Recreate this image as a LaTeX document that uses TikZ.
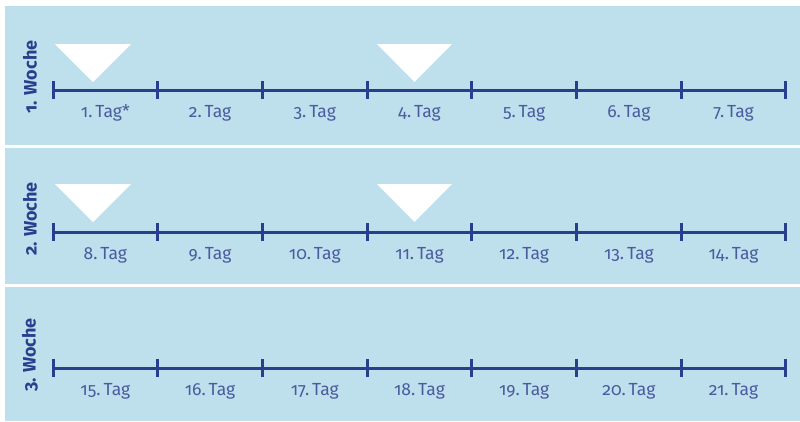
\documentclass[tikz,border=0pt]{standalone}
\usepackage{fontspec}
\setmainfont{Fira Sans}[Numbers=OldStyle]
\usetikzlibrary{calc}
\definecolor{BG}{HTML}{BEDFEC}
\definecolor{NV}{HTML}{2A3E8E}
\tikzset{
    PA/.style ={fill=BG, draw=none},
    LN/.style ={NV, line width=3pt},
    TA/.style ={text=NV!85, font=\fontsize{17.5}{17}\selectfont, inner sep=0pt},
    WO/.style ={text=NV, font=\bfseries\fontsize{18}{18}\selectfont, rotate=90, inner sep=0pt},
    TR/.style ={fill=white, draw=none}}

\begin{document}
\begin{tikzpicture}[x=1pt,y=-1pt]
    \useasboundingbox (0,0) rectangle (800,421);
    % Hintergrund der drei Wochen
    \fill[PA] (5,6) rectangle (800,145);
    \fill[PA] (5,148) rectangle (800,284);
    \fill[PA] (5,287) rectangle (800,421);
    \foreach \w/\y in {1/90,2/232,3/368}{
        \foreach \i in {0,...,7}
            \coordinate (t\w-\i) at (53+104.7*\i,\y);
        \draw[LN] (t\w-0) -- (t\w-7);
        \foreach \i in {0,...,7}
            \draw[LN] (t\w-\i) ++(0,-9) -- ++(0,18);
        \node[WO] (w\w) at (30,\y-13) {\w. Woche};
        % Tage
        \foreach \i in {1,...,7}{
            \pgfmathtruncatemacro\n{7*(\w-1)+\i}
            \pgfmathtruncatemacro\j{\i-1}
            \node[TA] (d\n) at ($(t\w-\j)!0.5!(t\w-\i)+(0,23)$) {\n.\,Tag\ifnum\n=1*\fi};
        }
    }
    % Markierungen
    \fill[TR] (55,44) -- (131,44) -- (93,82) -- cycle;
    \fill[TR] (377,44) -- (452,44) -- (414.5,82) -- cycle;
    \fill[TR] (55,184) -- (131,184) -- (93,222) -- cycle;
    \fill[TR] (377,184) -- (452,184) -- (414.5,222) -- cycle;
\end{tikzpicture}
\end{document}
